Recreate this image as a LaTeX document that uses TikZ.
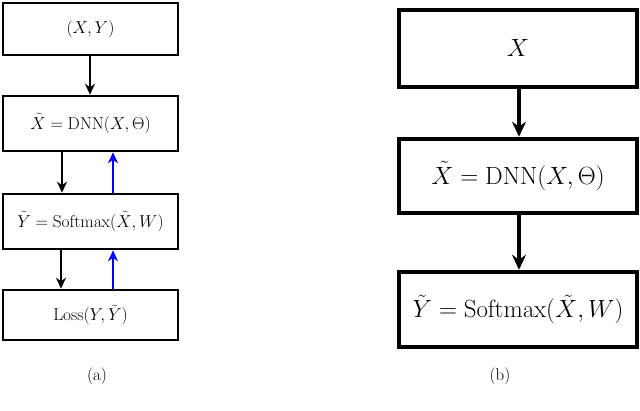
\documentclass[tikz,border=0pt]{standalone}
\usetikzlibrary{arrows.meta}
\begin{document}
\begin{tikzpicture}[x=1pt,y=-1pt,
  lbox/.style={draw, line width=2.6pt, minimum width=175pt, inner sep=0pt, font=\fontsize{17.4}{20}\selectfont},
  rbox/.style={draw, line width=4.5pt, minimum width=238pt, inner sep=0pt, font=\fontsize{24.3}{28}\selectfont},
  larr/.style={line width=2.4pt, -{Stealth[length=11pt,width=10pt,inset=3.5pt]}},
  rarr/.style={line width=4pt, -{Stealth[length=15pt,width=14pt,inset=5pt]}},
  captext/.style={font=\fontsize{17}{20}\selectfont}]
\useasboundingbox (0,0) rectangle (640,411);
\node[lbox, minimum height=52pt] (L1) at (90.5,29) {$(X,Y)$};
\node[lbox, minimum height=55pt] (L2) at (90.5,123.5) {$\tilde X=\mathrm{DNN}(X,\Theta)$};
\node[lbox, minimum height=55pt] (L3) at (90.5,221.5) {$\tilde Y=\mathrm{Softmax}(\tilde X,W)$};
\node[lbox, minimum height=50pt] (L4) at (90.5,315) {$\mathrm{Loss}(Y,\tilde Y)$};
\draw[larr] (L1.south -| 90,0) -- (L2.north -| 90,0);
\draw[larr] (L2.south -| 62,0) -- (L3.north -| 62,0);
\draw[larr,blue] (L3.north -| 113,0) -- (L2.south -| 113,0);
\draw[larr] (L3.south -| 61,0) -- (L4.north -| 61,0);
\draw[larr,blue] (L4.north -| 113,0) -- (L3.south -| 113,0);
\node[rbox, minimum height=77pt] (R1) at (518,48.5) {$X$};
\node[rbox, minimum height=74pt] (R2) at (518,176) {$\tilde X=\mathrm{DNN}(X,\Theta)$};
\node[rbox, minimum height=75pt] (R3) at (518,309.5) {$\tilde Y=\mathrm{Softmax}(\tilde X,W)$};
\draw[rarr] (R1.south -| 519,0) -- (R2.north -| 519,0);
\draw[rarr] (R2.south -| 519,0) -- (R3.north -| 519,0);
\node[captext] (ca) at (97,376) {(a)};
\node[captext] (cb) at (500,376) {(b)};
\end{tikzpicture}
\end{document}
